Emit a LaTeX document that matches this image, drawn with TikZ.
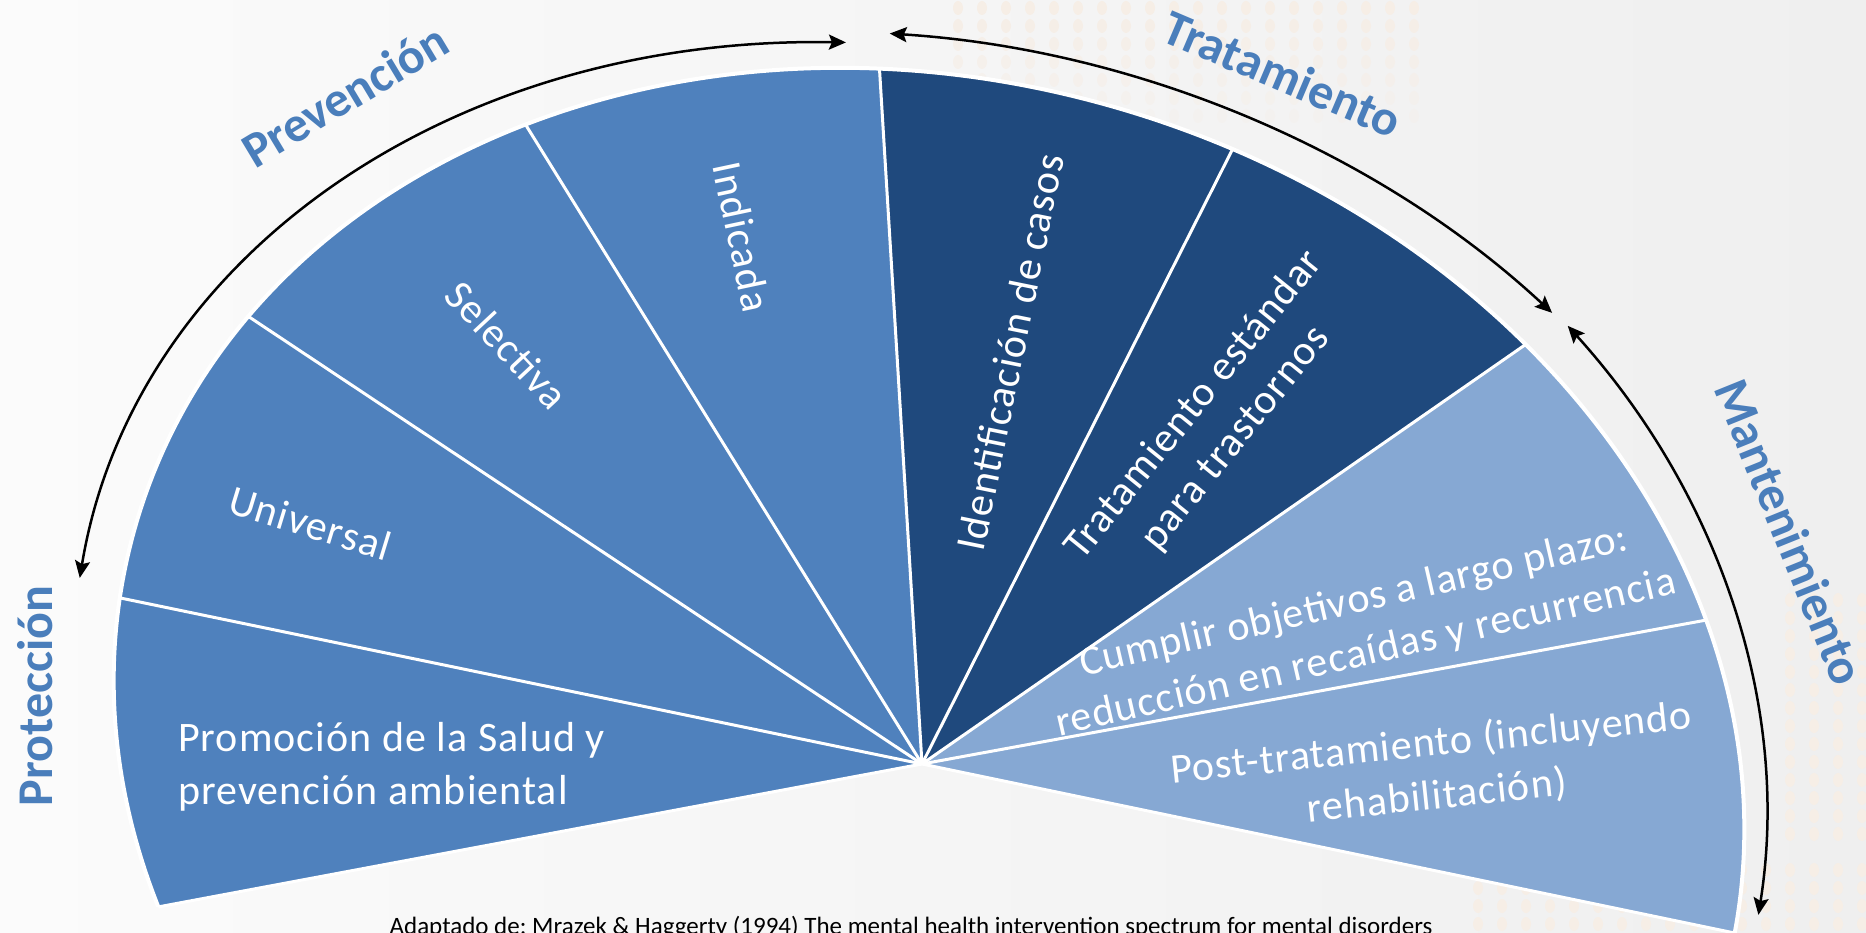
\documentclass[tikz,border=0pt]{standalone}
\usepackage{fontspec}
\setmainfont{Carlito}
\newfontfamily\lblfont[LetterSpace=2.5]{Carlito}
\usetikzlibrary{arrows.meta}
\definecolor{midblue}{HTML}{4F81BD}
\definecolor{darkblue}{HTML}{1F497D}
\definecolor{lightblue}{HTML}{86A8D3}
\definecolor{headblue}{HTML}{4A7EBB}
\definecolor{bgleft}{HTML}{FBFBFB}
\definecolor{bgright}{HTML}{EFEFEF}
\definecolor{dotc}{HTML}{F6EEE6}
\frenchspacing
\begin{document}
\begin{tikzpicture}[x=1pt,y=1pt,
  wlabel/.style={text=white, font=\lblfont\fontsize{42}{53}\selectfont, align=center, inner sep=0pt},
  heading/.style={text=headblue, font=\fontsize{50}{60}\selectfont\bfseries, inner sep=0pt},
  spanarrow/.style={black, line width=2.5pt, {Stealth[length=17pt,width=15pt,inset=3pt]}-{Stealth[length=17pt,width=15pt,inset=3pt]}},
  sepline/.style={white, line width=3pt},
  bgdot/.style={fill=dotc}]
\useasboundingbox (0,0) rectangle (1866,932);
\shade[left color=bgleft, right color=bgright] (0,0) rectangle (1866,932);
% faint background dot texture
\foreach \i in {0,...,19}
  \foreach \j in {0,...,6}
    \fill[bgdot, opacity=1-\j*0.12] (958+\i*24, 924-\j*18) ellipse[x radius=5, y radius=7];
\foreach \i in {0,...,16}
  \foreach \j in {0,...,3}
    \fill[bgdot] (1478+\i*24, 62-\j*18) ellipse[x radius=5, y radius=7];
\foreach \i in {0,...,3}
  \foreach \j in {0,...,13}
    \fill[bgdot] (1790+\i*24, 332-\j*18) ellipse[x radius=5, y radius=7];
\coordinate (apex) at (922,168);
\coordinate (ec) at (929,177);
% wedges
\begin{scope}
  \clip[shift={(ec)}, rotate=-16.2] (0,0) ellipse[x radius=826, y radius=674];
  \begin{scope}[shift={(apex)}]
    \fill[midblue] (0,0) -- (190.6:1400) -- (179:1400) -- (168.3:1400) -- cycle;
    \fill[midblue] (0,0) -- (168.3:1400) -- (157:1400) -- (146.4:1400) -- cycle;
    \fill[midblue] (0,0) -- (146.4:1400) -- (134:1400) -- (121.8:1400) -- cycle;
    \fill[midblue] (0,0) -- (121.8:1400) -- (107:1400) -- (93.5:1400) -- cycle;
    \fill[darkblue] (0,0) -- (93.5:1400) -- (78:1400) -- (63.2:1400) -- cycle;
    \fill[darkblue] (0,0) -- (63.2:1400) -- (49:1400) -- (34.8:1400) -- cycle;
    \fill[lightblue] (0,0) -- (34.8:1400) -- (22:1400) -- (10.4:1400) -- cycle;
    \fill[lightblue] (0,0) -- (10.4:1400) -- (0:1400) -- (-11.75:1400) -- cycle;
    \foreach \a in {190.6,168.3,146.4,121.8,93.5,63.2,34.8,10.4,-11.75}
      \draw[sepline] (0,0) -- (\a:1400);
  \end{scope}
\end{scope}
% outer white rim
\begin{scope}
  \clip[shift={(apex)}] (0,0) -- (190.6:1400) -- (150:1400) -- (90:1400) -- (30:1400) -- (-11.75:1400) -- cycle;
  \draw[white, line width=4pt, shift={(ec)}, rotate=-16.2] (0,0) ellipse[x radius=826, y radius=674];
\end{scope}
% wedge labels
\node[wlabel, anchor=west, align=left] (promo) at (178,165) {Promoción de la Salud y\\prevención ambiental};
\node[wlabel, rotate=-17] (univ) at (310,409) {Universal};
\node[wlabel, rotate=-47] (sel) at (507,587) {Selectiva};
\node[wlabel, rotate=-78] (ind) at (742,695) {Indicada};
\node[wlabel, rotate=78.5] (ident) at (1010,580) {Identificación de casos};
\node[wlabel, rotate=51] (trat) at (1215,510) {Tratamiento estándar\\para trastornos};
\node[wlabel, rotate=13] (cump) at (1360,304) {Cumplir objetivos a largo plazo:\\reducción en recaídas y recurrencia};
\node[wlabel, rotate=6] (post) at (1434,162) {Post-tratamiento (incluyendo\\rehabilitación)};
% headings
\node[heading, rotate=31] (hprev) at (345,837) {Prevención};
\node[heading, rotate=-23] (htrat) at (1283,858) {Tratamiento};
\node[heading, rotate=-68] (hmant) at (1790,400) {Mantenimiento};
\node[heading, rotate=90] (hprot) at (35,236) {Protección};
% span arrows
\begin{scope}[shift={(ec)}, rotate=-16.2]
  \coordinate (a1s) at (185.5:869 and 698);
  \coordinate (a2s) at (105.6:889 and 708);
  \coordinate (a3s) at (54.3:846 and 727);
  \draw[spanarrow] (a1s) arc[start angle=185.5, end angle=108.7, x radius=869, y radius=698];
  \draw[spanarrow] (a2s) arc[start angle=105.6, end angle=57.7, x radius=889, y radius=708];
  \draw[spanarrow] (a3s) arc[start angle=54.3, end angle=6.15, x radius=846, y radius=727];
\end{scope}
% source
\node[anchor=base, font=\fontsize{25}{29}\selectfont, inner sep=0pt] (src) at (911,-2) {Adaptado de: Mrazek \& Haggerty (1994) The mental health intervention spectrum for mental disorders};
\end{tikzpicture}
\end{document}
